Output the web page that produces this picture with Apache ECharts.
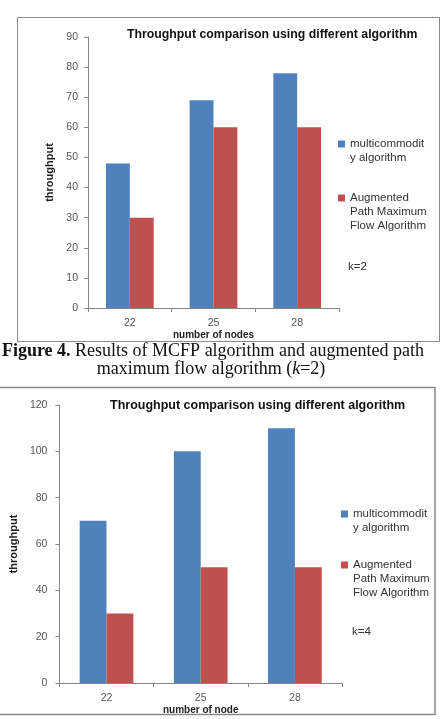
<!DOCTYPE html>
<html>
<head>
<meta charset="utf-8">
<title>Throughput comparison</title>
<script src="https://cdn.jsdelivr.net/npm/echarts@6/dist/echarts.min.js"></script>
<style>
    html, body { margin: 0; padding: 0; background: #fff; }
    #main { width: 441px; height: 719px; }
</style>
</head>
<body>
<div id="main"></div>
<script>
// data
var categories = ['22', '25', '28']
var multiK2 = [48, 69, 78]
var augmentK2 = [30, 60, 60]
var multiK4 = [70, 100, 110]
var augmentK4 = [30, 50, 50]

var nameMulti = 'multicommodity algorithm'
var nameAug = 'Augmented Path Maximum Flow Algorithm'
// leading blank lines keep the marker level with the first text line
var wrapped = {}
wrapped[nameMulti] = '\nmulticommodit\ny algorithm'
wrapped[nameAug] = '\n\nAugmented\nPath Maximum\nFlow Algorithm'

var blue = '#4F81BD'
var red = '#C0504D'
var axisGray = '#868686'
var font = 'Liberation Sans'

function yAxisOpt(gridIndex, max, interval, gap, margin) {
    return {
        type: 'value',
        gridIndex: gridIndex,
        min: 0,
        max: max,
        interval: interval,
        name: 'throughput',
        nameLocation: 'middle',
        nameGap: gap,
        nameRotate: 90,
        nameTextStyle: { fontFamily: font, fontWeight: 'bold', fontSize: 11, color: '#222' },
        axisLine: { show: true, lineStyle: { color: axisGray } },
        axisTick: { show: true, length: 4, lineStyle: { color: axisGray } },
        axisLabel: { fontFamily: font, fontSize: 10.5, color: '#555', margin: margin },
        splitLine: { show: false }
    }
}

function xAxisOpt(gridIndex, name, gap) {
    return {
        type: 'category',
        gridIndex: gridIndex,
        data: categories,
        name: name,
        nameLocation: 'middle',
        nameGap: gap,
        nameTextStyle: { fontFamily: font, fontWeight: 'bold', fontSize: 10, color: '#222' },
        axisLine: { lineStyle: { color: axisGray } },
        axisTick: { show: true, length: 4, alignWithLabel: false, lineStyle: { color: axisGray } },
        axisLabel: { fontFamily: font, fontSize: 10.5, color: '#555', margin: 10 }
    }
}

function legendOpt(name, left, top) {
    return {
        left: left,
        top: top,
        orient: 'vertical',
        padding: 0,
        icon: 'rect',
        itemWidth: 7,
        itemHeight: 7,
        itemGap: 0,
        selectedMode: false,
        textStyle: { fontFamily: font, fontSize: 11.5, color: '#333', lineHeight: 14 },
        formatter: function (n) { return wrapped[n] },
        data: [name]
    }
}

var chart = echarts.init(document.getElementById('main'))
chart.setOption({
    backgroundColor: '#fff',
    animation: false,
    title: [
        {
            text: 'Throughput comparison using different algorithm',
            left: 127, top: 29, padding: 0,
            textStyle: { fontFamily: font, fontWeight: 'bold', fontSize: 12.3, color: '#111' }
        },
        {
            text: 'Throughput comparison using different algorithm',
            left: 110, top: 399, padding: 0,
            textStyle: { fontFamily: font, fontWeight: 'bold', fontSize: 12.5, color: '#111' }
        }
    ],
    grid: [
        { left: 88, right: 102, top: 37, bottom: 411 },
        { left: 56, right: 99, top: 405, bottom: 36 }
    ],
    xAxis: [
        xAxisOpt(0, 'number of nodes', 21),
        xAxisOpt(1, 'number of node', 17)
    ],
    yAxis: [
        yAxisOpt(0, 90, 10, 21, 10),
        yAxisOpt(1, 120, 20, 22, 12)
    ],
    legend: [
        legendOpt(nameMulti, 338, 123),
        legendOpt(nameAug, 338, 163),
        legendOpt(nameMulti, 341, 493),
        legendOpt(nameAug, 341, 530)
    ],
    series: [
        { name: nameMulti, type: 'bar', xAxisIndex: 0, yAxisIndex: 0, data: multiK2,
          itemStyle: { color: blue }, barGap: 0, barCategoryGap: '43%' },
        { name: nameAug, type: 'bar', xAxisIndex: 0, yAxisIndex: 0, data: augmentK2,
          itemStyle: { color: red }, barGap: 0, barCategoryGap: '43%' },
        { name: nameMulti, type: 'bar', xAxisIndex: 1, yAxisIndex: 1, data: multiK4,
          itemStyle: { color: blue }, barGap: 0, barCategoryGap: '43%' },
        { name: nameAug, type: 'bar', xAxisIndex: 1, yAxisIndex: 1, data: augmentK4,
          itemStyle: { color: red }, barGap: 0, barCategoryGap: '43%' }
    ],
    graphic: [
        // chart frames
        { type: 'rect', shape: { x: 17.5, y: 17.5, width: 422, height: 324 },
          style: { fill: 'none', stroke: '#8a8a8a', lineWidth: 1 }, z: -1 },
        { type: 'rect', shape: { x: -2, y: 387.5, width: 437, height: 327 },
          style: { fill: 'none', stroke: '#8a8a8a', lineWidth: 1.5 }, z: -1 },
        { type: 'text', left: 348, top: 261,
          style: { text: 'k=2', font: '11.5px Liberation Sans', fill: '#333' } },
        { type: 'text', left: 352, top: 626,
          style: { text: 'k=4', font: '11.5px Liberation Sans', fill: '#333' } },
        // caption between the figures
        { type: 'text', x: 213, y: 351,
          style: {
              text: '{b|Figure 4.} Results of MCFP algorithm and augmented path',
              align: 'center', verticalAlign: 'middle',
              font: '18px Liberation Serif', fill: '#111',
              rich: { b: { fontFamily: 'Liberation Serif', fontWeight: 'bold', fontSize: 18 } }
          } },
        { type: 'text', x: 211, y: 369,
          style: {
              text: 'maximum flow algorithm ({i|k}=2)',
              align: 'center', verticalAlign: 'middle',
              font: '18px Liberation Serif', fill: '#111',
              rich: { i: { fontFamily: 'Liberation Serif', fontStyle: 'italic', fontSize: 18 } }
          } }
    ]
})
</script>
</body>
</html>
